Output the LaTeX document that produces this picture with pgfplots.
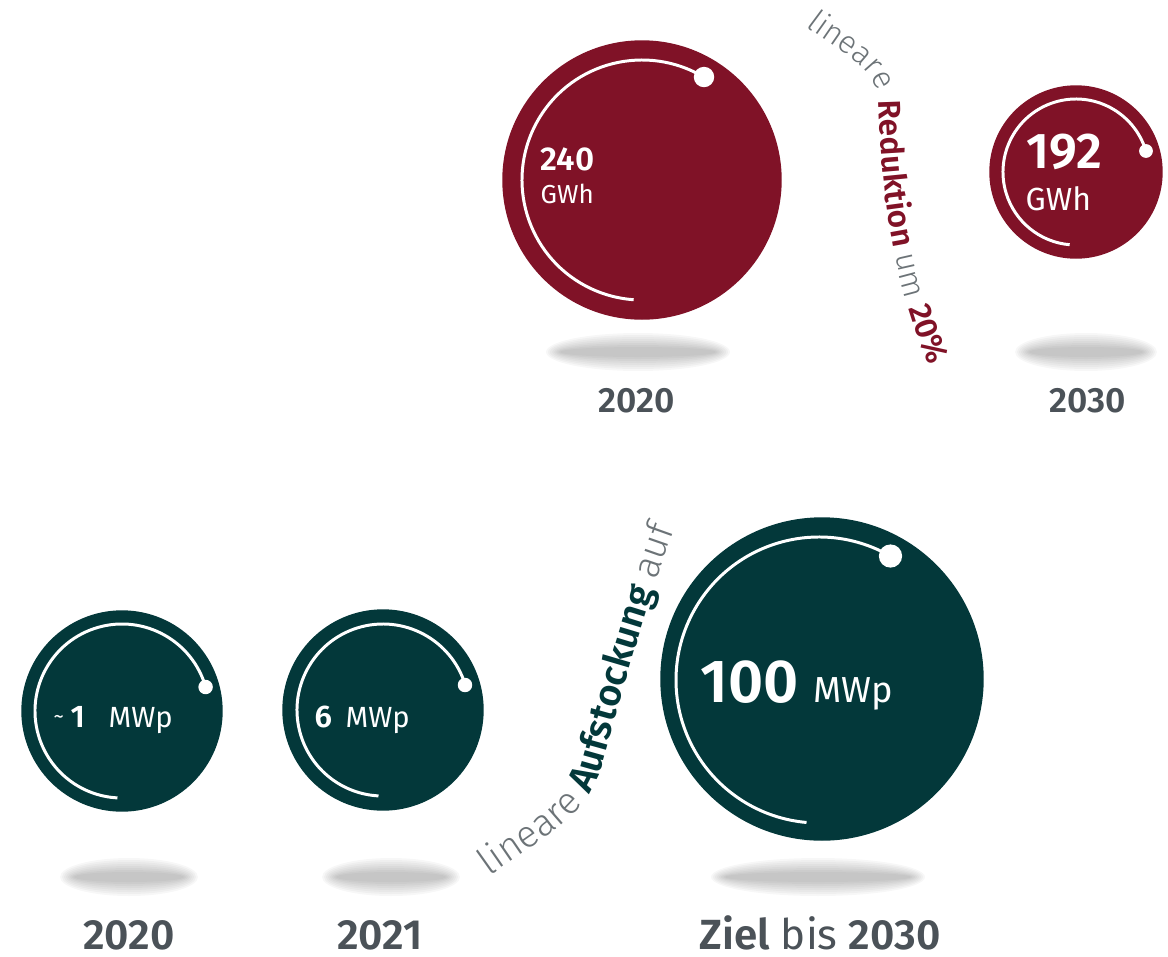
\documentclass[border=0pt]{standalone}
\usepackage{pgfplots}
\pgfplotsset{compat=1.18}
\usepackage{fontspec}
\setmainfont{Fira Sans}[BoldFont={Fira Sans SemiBold}]
\newfontfamily\lightf{Fira Sans Light}
\usetikzlibrary{decorations.text}
\definecolor{cRed}{HTML}{801227}
\definecolor{cGreen}{HTML}{03383A}
\definecolor{cLabel}{HTML}{4B5258}
\definecolor{cLight}{HTML}{6C7377}
\newcommand{\fs}[1]{\fontsize{#1}{#1}\selectfont}
\newcommand{\shadowell}[4]{%
  \fill[black,opacity=0.03] (axis cs:#1,#2) ellipse [x radius={(#3+14)*0.01cm}, y radius={(#4+14)*0.01cm}];
  \fill[black,opacity=0.03] (axis cs:#1,#2) ellipse [x radius={(#3+12)*0.01cm}, y radius={(#4+12)*0.01cm}];
  \fill[black,opacity=0.03] (axis cs:#1,#2) ellipse [x radius={(#3+10)*0.01cm}, y radius={(#4+10)*0.01cm}];
  \fill[black,opacity=0.03] (axis cs:#1,#2) ellipse [x radius={(#3+8)*0.01cm}, y radius={(#4+8)*0.01cm}];
  \fill[black,opacity=0.03] (axis cs:#1,#2) ellipse [x radius={(#3+6)*0.01cm}, y radius={(#4+6)*0.01cm}];
  \fill[black,opacity=0.03] (axis cs:#1,#2) ellipse [x radius={(#3+4)*0.01cm}, y radius={(#4+4)*0.01cm}];
  \fill[black,opacity=0.03] (axis cs:#1,#2) ellipse [x radius={(#3+2)*0.01cm}, y radius={(#4+2)*0.01cm}];
  \fill[black,opacity=0.03] (axis cs:#1,#2) ellipse [x radius={(#3)*0.01cm}, y radius={(#4)*0.01cm}];
}
\begin{document}
\begin{tikzpicture}
\begin{axis}[scale only axis, width=11.68cm, height=9.56cm,
  xmin=0, xmax=1168, ymin=0, ymax=956, y dir=reverse,
  hide axis, clip=false, set layers]
\path (axis cs:0,0) rectangle (axis cs:1168,956);
% shadows
\shadowell{638}{352}{78}{5}
\shadowell{1086}{352}{57}{5}
\shadowell{129}{877}{55}{5}
\shadowell{391}{877}{55}{5}
\shadowell{818}{877}{93}{5}
% circles
\addplot[only marks, mark=*, mark size=39.55pt, color=cRed] coordinates {(642,180)};
\addplot[only marks, mark=*, mark size=24.47pt, color=cRed] coordinates {(1076,172)};
\addplot[only marks, mark=*, mark size=28.45pt, color=cGreen] coordinates {(122,711)};
\addplot[only marks, mark=*, mark size=28.45pt, color=cGreen] coordinates {(383,710)};
\addplot[only marks, mark=*, mark size=45.81pt, color=cGreen] coordinates {(822,679)};
% dots
\addplot[only marks, mark=*, mark size=2.7pt, color=white] coordinates {(704,77)};
\addplot[only marks, mark=*, mark size=1.75pt, color=white] coordinates {(1146,151)};
\addplot[only marks, mark=*, mark size=1.85pt, color=white] coordinates {(205.6,687)};
\addplot[only marks, mark=*, mark size=1.85pt, color=white] coordinates {(465,685)};
\addplot[only marks, mark=*, mark size=3.1pt, color=white] coordinates {(890.5,556)};
\begin{pgfonlayer}{axis foreground}
% arcs
\draw[white, line width=0.85pt] (axis cs:642,180) ++(59:1.20cm) arc[start angle=59, end angle=266, radius=1.20cm];
\draw[white, line width=0.85pt] (axis cs:1076,172) ++(17:0.73cm) arc[start angle=17, end angle=265, radius=0.73cm];
\draw[white, line width=0.85pt] (axis cs:122,711) ++(16:0.87cm) arc[start angle=16, end angle=267, radius=0.87cm];
\draw[white, line width=0.85pt] (axis cs:383,710) ++(17:0.86cm) arc[start angle=17, end angle=267, radius=0.86cm];
\draw[white, line width=0.85pt] (axis cs:819,680) ++(60:1.43cm) arc[start angle=60, end angle=265, radius=1.43cm];
% texts in circles
\node[anchor=base west, inner sep=0, text=white, font=\fs{9.4}\bfseries] at (axis cs:540,170) {240};
\node[anchor=base west, inner sep=0, text=white, font=\fs{7.4}] at (axis cs:540,203) {GWh};
\node[anchor=base west, inner sep=0, text=white, font=\fs{14.3}\bfseries] at (axis cs:1026,168) {192};
\node[anchor=base west, inner sep=0, text=white, font=\fs{9.1}] at (axis cs:1025,210) {GWh};
\node[anchor=base west, inner sep=0, text=white, font=\fs{6}] at (axis cs:53,723) {\textasciitilde};
\node[anchor=base west, inner sep=0, text=white, font=\fs{8.9}\bfseries] at (axis cs:70,727) {1};
\node[anchor=base west, inner sep=0, text=white, font=\fs{8.3}] at (axis cs:108,727) {MWp};
\node[anchor=base west, inner sep=0, text=white, font=\fs{8.9}\bfseries] at (axis cs:314,727) {6};
\node[anchor=base west, inner sep=0, text=white, font=\fs{8.3}] at (axis cs:345,727) {MWp};
\node[anchor=base west, inner sep=0, text=white, font=\fs{17.3}\bfseries] at (axis cs:700,702) {100};
\node[anchor=base west, inner sep=0, text=white, font=\fs{10.3}] at (axis cs:813,702) {MWp};
\end{pgfonlayer}
% labels
\node[anchor=base, inner sep=0, text=cLabel, font=\fs{10}\bfseries] at (axis cs:637,412) {2020};
\node[anchor=base, inner sep=0, text=cLabel, font=\fs{10}\bfseries] at (axis cs:1088,412) {2030};
\node[anchor=base, inner sep=0, text=cLabel, font=\fs{12}\bfseries] at (axis cs:129,949) {2020};
\node[anchor=base, inner sep=0, text=cLabel, font=\fs{12}\bfseries] at (axis cs:380,949) {2021};
\node[anchor=base, inner sep=0, text=cLabel, font=\fs{12}] at (axis cs:820,949) {\textbf{Ziel} bis \textbf{2030}};
% curved texts
\path[decorate, decoration={text along path,
  text={|\lightf\fs{9}\color{cLight}|lineare |\normalfont\bfseries\fs{9}\color{cRed}|Reduktion |\lightf\fs{9}\color{cLight}|um |\normalfont\bfseries\fs{9}\color{cRed}|20{\%}}}]
  (axis cs:806,26) .. controls (axis cs:840,52) and (axis cs:876,68) .. (axis cs:879,100)
  .. controls (axis cs:882,200) and (axis cs:892,280) .. (axis cs:935,380);
\path[decorate, decoration={text along path,
  text={|\lightf\fs{10.8}\color{cLight}|lineare |\normalfont\bfseries\fs{10.8}\color{cGreen}|Aufstockung |\lightf\fs{10.8}\color{cLight}|auf}}]
  (axis cs:490,876) .. controls (axis cs:540,840) and (axis cs:585,817) .. (axis cs:600,772)
  .. controls (axis cs:620,702) and (axis cs:640,620) .. (axis cs:685,500);
\end{axis}
\end{tikzpicture}
\end{document}
